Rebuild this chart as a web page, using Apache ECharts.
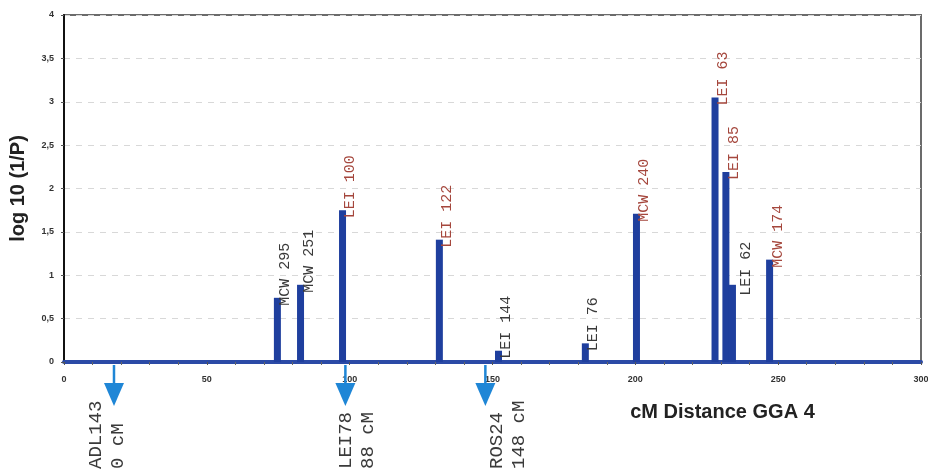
<!DOCTYPE html>
<html>
<head>
<meta charset="utf-8">
<script src="https://cdn.jsdelivr.net/npm/echarts@6/dist/echarts.min.js"></script>
<style>html,body{margin:0;padding:0;background:#fff}#c{width:928px;height:473px}</style>
</head>
<body>
<div id="c"></div>
<script>
// Marker loci (cM position, log10(1/P))
var markerNames = ['MCW 295','MCW 251','LEI 100','LEI 122','LEI 144','LEI 76','MCW 240','LEI 63','LEI 85','LEI 62','MCW 174'];
var markerPos   = [74.7, 82.8, 97.5, 131.4, 152.1, 182.5, 200.4, 227.9, 231.7, 234.0, 247.0];
var markerLogP  = [0.74, 0.89, 1.75, 1.41, 0.13, 0.215, 1.71, 3.05, 2.19, 0.89, 1.18];

// Reference loci shown with arrows below the axis
var refNames   = ['ADL143', 'LEI78', 'ROS24'];
var refCM      = ['0 cM', '88 cM', '148 cM'];
var refPos     = [17.5, 98.5, 147.5];
var refLabelAt = [11.2, 98.8, 151.5];

var yTicks = [0, 0.5, 1, 1.5, 2, 2.5, 3, 3.5, 4];
var xTicks = [0, 50, 100, 150, 200, 250, 300];

var barData = markerNames.map(function (n, i) {
  var strong = markerLogP[i] > 1;
  var item = {
    name: n,
    value: [markerPos[i], markerLogP[i]],
    label: { color: strong ? '#a5473d' : '#3a3a3a' }
  };
  if (n === 'LEI 62') item.label.offset = [-16, 14];
  return item;
});

var refData = refNames.map(function (n, i) { return [refPos[i], 0, refLabelAt[i], i]; });

var chart = echarts.init(document.getElementById('c'), null, { renderer: 'canvas' });
chart.setOption({
  backgroundColor: '#ffffff',
  animation: false,
  grid: { left: 64, right: 7, top: 15, bottom: 111, show: true, borderColor: '#6b6b6b', borderWidth: 2, containLabel: false, outerBoundsMode: 'none' },
  xAxis: {
    type: 'value', min: 0, max: 300, interval: 50,
    name: 'cM Distance GGA 4', nameLocation: 'middle', nameGap: 40,
    nameTextStyle: { fontFamily: 'Liberation Sans', fontWeight: 'bold', fontSize: 20, color: '#222', padding: [0, 0, 0, 460] },
    axisLine: { show: true, onZero: false, lineStyle: { color: '#2b4aa6', width: 4 } },
    axisTick: { show: true, length: 3, lineStyle: { color: '#555', width: 1 } },
    minorTick: { show: true, splitNumber: 5, length: 3, lineStyle: { color: '#666' } },
    splitLine: { show: false },
    axisLabel: { fontFamily: 'Liberation Sans', fontWeight: 'bold', fontSize: 9, color: '#333', margin: 13,
      formatter: function (v) { return xTicks.indexOf(v) >= 0 ? String(v) : ''; } }
  },
  yAxis: {
    type: 'value', min: 0, max: 4, interval: 0.5,
    name: 'log 10 (1/P)', nameLocation: 'middle', nameGap: 36,
    nameTextStyle: { fontFamily: 'Liberation Sans', fontWeight: 'bold', fontSize: 20, color: '#222' },
    axisLine: { show: true, lineStyle: { color: '#111', width: 2 } },
    axisTick: { show: true, length: 3, lineStyle: { color: '#555' } },
    splitLine: { show: true, lineStyle: { color: '#d8d8d8', type: [6, 6], width: 1 } },
    axisLabel: { fontFamily: 'Liberation Sans', fontWeight: 'bold', fontSize: 9, color: '#333', margin: 10,
      formatter: function (v) { return yTicks.indexOf(v) >= 0 ? String(v).replace('.', ',') : ''; } }
  },
  series: [
    {
      type: 'bar',
      data: barData,
      barWidth: 7,
      itemStyle: { color: '#1f3f9e' },
      z: 3,
      label: {
        show: true, position: 'top', rotate: 90, align: 'left', verticalAlign: 'middle',
        offset: [-13, 8],
        fontFamily: 'Liberation Mono', fontSize: 15,
        formatter: function (p) { return p.name; }
      }
    },
    {
      type: 'custom',
      data: refData,
      z: 5,
      clip: false,
      renderItem: function (params, api) {
        var p = api.coord([api.value(0), 0]);
        var lx = api.coord([api.value(2), 0])[0];
        var i = api.value(3);
        var x = p[0], y0 = p[1] + 3;
        var col = '#1f86d6';
        return {
          type: 'group',
          children: [
            { type: 'line', shape: { x1: x, y1: y0, x2: x, y2: y0 + 20 }, style: { stroke: col, lineWidth: 2.5 } },
            { type: 'polygon', shape: { points: [[x - 10, y0 + 18], [x + 10, y0 + 18], [x, y0 + 41]] }, style: { fill: col } },
            { type: 'text', x: lx, y: 469, rotation: Math.PI / 2,
              style: { text: refNames[i], fontFamily: 'Liberation Mono', fontSize: 19, fill: '#3a3a3a', align: 'left', verticalAlign: 'middle' } },
            { type: 'text', x: lx + 22, y: 469, rotation: Math.PI / 2,
              style: { text: refCM[i], fontFamily: 'Liberation Mono', fontSize: 19, fill: '#3a3a3a', align: 'left', verticalAlign: 'middle' } }
          ]
        };
      }
    }
  ]
});
</script>
</body>
</html>
